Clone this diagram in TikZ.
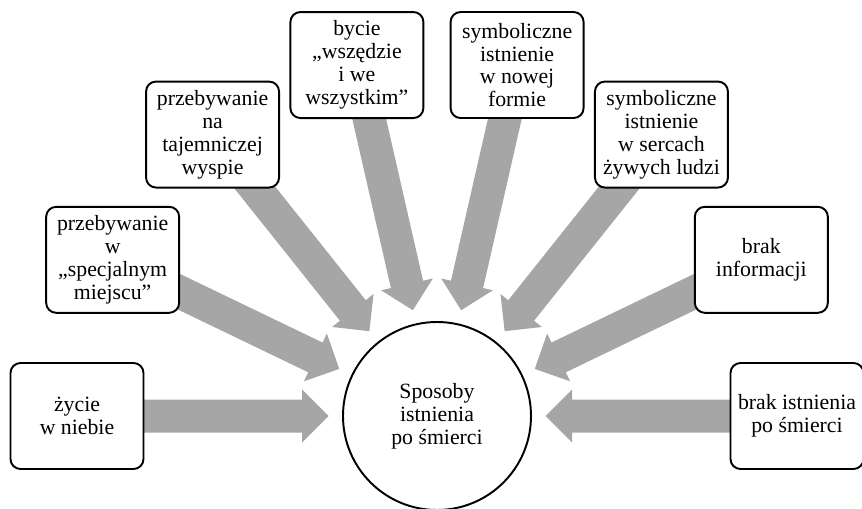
\documentclass[tikz,border=0pt]{standalone}
\usepackage{fontspec}
\setmainfont{Liberation Serif}
\usetikzlibrary{calc,backgrounds}
\definecolor{arrowgray}{HTML}{A6A6A6}
\tikzset{
	idea/.style={draw,line width=1.1pt,rounded corners=0.2cm,fill=white,
		minimum width=2.66cm,minimum height=2.12cm,align=center,inner sep=1pt},
	core/.style={draw,circle,line width=1.1pt,fill=white,minimum size=3.76cm,align=center},
}
\begin{document}
\begin{tikzpicture}[font=\fontsize{12.4}{13}\selectfont]
		\useasboundingbox (0,0) rectangle (17.24,10.16);
		\node[core] (ctr) at (8.74,1.84) {Sposoby\\istnienia\\po śmierci};
		% boxes on a half circle, 180/7 apart
		\foreach \i/\txt in {1/{życie\\w niebie},
			2/{przebywanie\\w\\„specjalnym\\miejscu”},
			3/{przebywanie\\na\\tajemniczej\\wyspie},
			4/{bycie\\„wszędzie\\i we\\wszystkim”},
			5/{symboliczne\\istnienie\\w nowej\\formie},
			6/{symboliczne\\istnienie\\w sercach\\żywych ludzi},
			7/{brak\\informacji},
			8/{brak istnienia\\po śmierci}} {
			\pgfmathsetmacro\ang{180-(\i-1)*180/7}
			\node[idea] (b\i) at ($(ctr)+(\ang:7.2cm)$) {\txt};
		}
		% block arrows
		\begin{scope}[on background layer]
			\foreach \i in {1,...,8} {
				\coordinate (tip) at ($(ctr)!2.17cm!(b\i)$);
				\coordinate (neck) at ($(tip)!0.53cm!(b\i)$);
				\fill[arrowgray] ($(b\i)!0.33cm!90:(tip)$) -- ($(neck)!0.33cm!90:(tip)$)
					-- ($(neck)!0.53cm!90:(tip)$) -- (tip) -- ($(neck)!0.53cm!-90:(tip)$)
					-- ($(neck)!0.33cm!-90:(tip)$) -- ($(b\i)!0.33cm!-90:(tip)$) -- cycle;
			}
		\end{scope}
	\end{tikzpicture}
\end{document}
